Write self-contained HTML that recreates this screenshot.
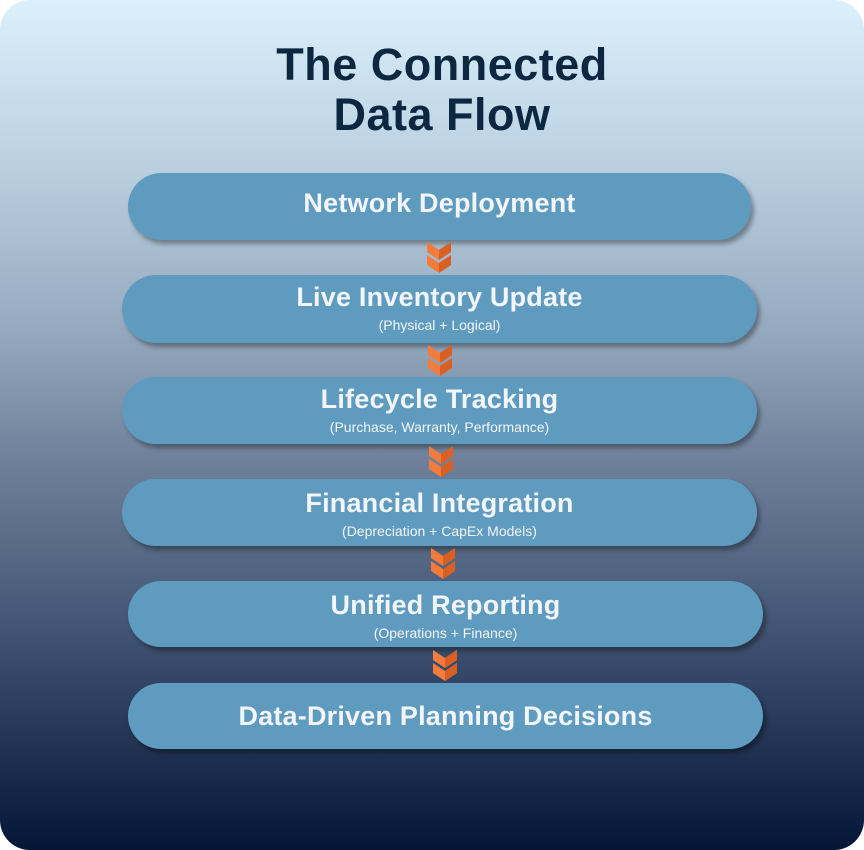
<!DOCTYPE html>
<html><head><style>
body{margin:0;width:864px;height:850px;background:#fff;overflow:hidden;font-family:"Liberation Sans",sans-serif}
.bg{position:absolute;left:0;top:0;width:864px;height:850px;border-radius:30px;background:linear-gradient(#dcf0fc 0%,#b9cfe0 20%,#97abc0 38%,#6d7f98 55%,#3f5272 75%,#1c2d4d 90%,#031636 100%)}
.t{position:absolute;left:0;width:884px;text-align:center;color:#0d2740;font-weight:bold;font-size:45px;line-height:50px;letter-spacing:.5px}
.p{position:absolute;background:#5f9bbf;border-radius:34px;box-shadow:3px 4px 5px rgba(0,0,0,.35);color:#f2f6fa;text-align:center}
.p b{display:block;font-size:27px;font-weight:bold;letter-spacing:.2px}
.p s{display:block;text-decoration:none;font-size:14px;margin-top:4px}
svg{position:absolute}
</style></head><body>
<div class="bg"></div>
<div class="t" style="top:40px">The Connected</div>
<div class="t" style="top:90px">Data Flow</div>
<div class="p" style="left:128px;top:173px;width:623px;height:67px"><b style="margin-top:15px">Network Deployment</b></div>
<div class="p" style="left:122px;top:275px;width:635px;height:68px"><b style="margin-top:7px">Live Inventory Update</b><s>(Physical + Logical)</s></div>
<div class="p" style="left:122px;top:377px;width:635px;height:67px"><b style="margin-top:7px">Lifecycle Tracking</b><s>(Purchase, Warranty, Performance)</s></div>
<div class="p" style="left:122px;top:479px;width:635px;height:67px"><b style="margin-top:9px">Financial Integration</b><s>(Depreciation + CapEx Models)</s></div>
<div class="p" style="left:128px;top:581px;width:635px;height:66px"><b style="margin-top:9px">Unified Reporting</b><s>(Operations + Finance)</s></div>
<div class="p" style="left:128px;top:683px;width:635px;height:66px"><b style="margin-top:18px">Data-Driven Planning Decisions</b></div>
<svg width="0" height="0"><defs><g id="c"><path d="M0 0 L12 8 L24 0 L24 10 L12 18 L0 10Z" fill="#f37b3c"/><path d="M0 13 L12 21 L24 13 L24 23 L12 31 L0 23Z" fill="#f37b3c"/><path d="M12 8 L24 0 L24 10 L12 18Z M12 21 L24 13 L24 23 L12 31Z" fill="#d95f23"/></g></defs></svg>
<svg style="left:427px;top:242px" width="26" height="32"><use href="#c"/></svg>
<svg style="left:428px;top:345px" width="26" height="32"><use href="#c"/></svg>
<svg style="left:429px;top:446px" width="26" height="32"><use href="#c"/></svg>
<svg style="left:431px;top:548px" width="26" height="32"><use href="#c"/></svg>
<svg style="left:433px;top:650px" width="26" height="32"><use href="#c"/></svg>
</body></html>
